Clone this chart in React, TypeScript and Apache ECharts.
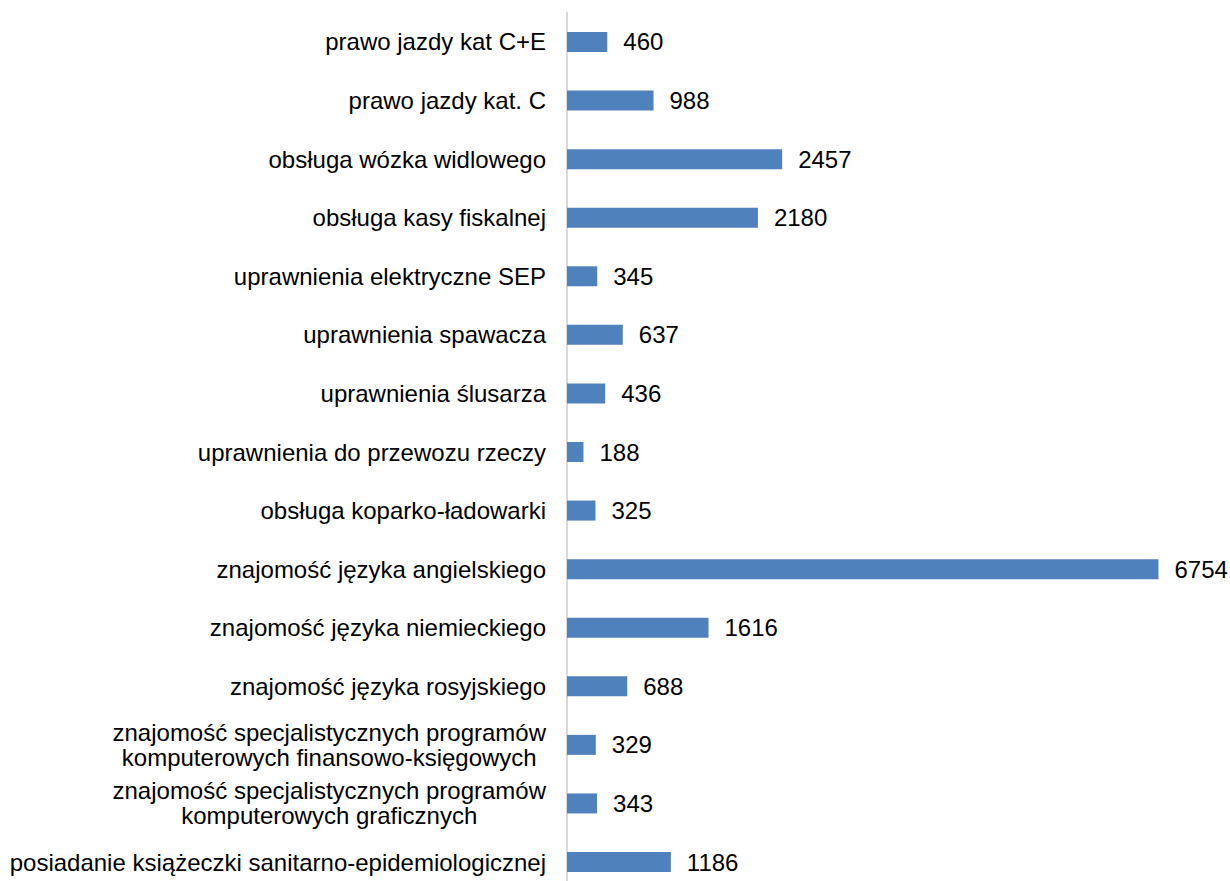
import React, { useEffect, useRef } from "react";
import * as echarts from "echarts";

const categories: string[] = [
  "prawo jazdy kat C+E",
  "prawo jazdy kat. C",
  "obsługa wózka widlowego",
  "obsługa kasy fiskalnej",
  "uprawnienia elektryczne SEP",
  "uprawnienia spawacza",
  "uprawnienia ślusarza",
  "uprawnienia do przewozu rzeczy",
  "obsługa koparko-ładowarki",
  "znajomość języka angielskiego",
  "znajomość języka niemieckiego",
  "znajomość języka rosyjskiego",
  "znajomość specjalistycznych programów\nkomputerowych finansowo-księgowych",
  "znajomość specjalistycznych programów\nkomputerowych graficznych",
  "posiadanie książeczki sanitarno-epidemiologicznej",
];

const values: number[] = [460, 988, 2457, 2180, 345, 637, 436, 188, 325, 6754, 1616, 688, 329, 343, 1186];

const FONT = "'Liberation Sans', Arial, sans-serif";

export default function App() {
  const ref = useRef<HTMLDivElement>(null);
  useEffect(() => {
    if (!ref.current) return;
    const chart = echarts.init(ref.current, undefined, { renderer: "svg" });
    chart.setOption({
      animation: false,
      backgroundColor: "#ffffff",
      grid: {
        left: 567,
        top: 12.7,
        width: 613,
        height: 878.6,
        containLabel: false,
        outerBoundsMode: "none",
      },
      xAxis: {
        type: "value",
        min: 0,
        max: 7000,
        show: false,
      },
      yAxis: {
        type: "category",
        data: categories,
        inverse: true,
        axisLine: { show: true, lineStyle: { color: "#d9d9d9", width: 2 } },
        axisTick: { show: false },
        axisLabel: {
          margin: 21,
          color: "#000000",
          fontFamily: FONT,
          fontSize: 24,
          lineHeight: 25,
          formatter: (v: string) => v.split("\n").map((l) => `{c|${l}}`).join("\n"),
          rich: {
            c: { align: "center", fontFamily: FONT, fontSize: 24, lineHeight: 25, color: "#000000" },
          },
        },
        splitLine: { show: false },
      },
      series: [
        {
          type: "bar",
          data: values,
          barWidth: 20,
          itemStyle: { color: "#4f81bd" },
          label: {
            show: true,
            position: "right",
            distance: 16,
            color: "#000000",
            fontFamily: FONT,
            fontSize: 24,
          },
        },
      ],
    });
    return () => chart.dispose();
  }, []);
  return (
    <div
      ref={ref}
      style={{ position: "absolute", left: 0, top: 0, width: 1230, height: 881 }}
    />
  );
}
